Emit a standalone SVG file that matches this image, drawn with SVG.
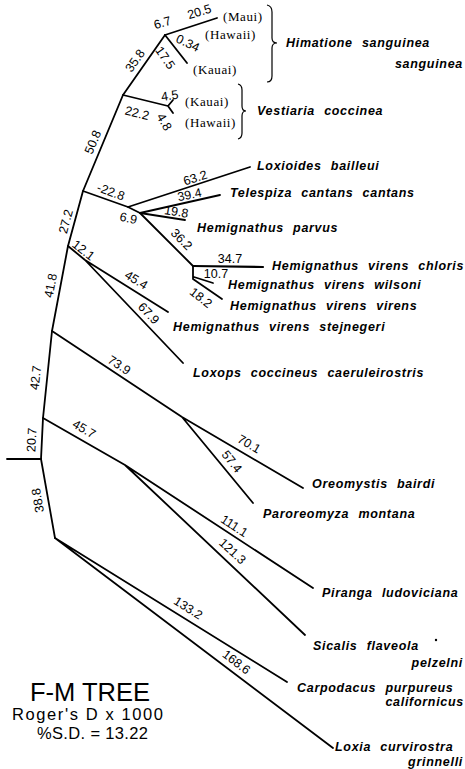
<svg xmlns="http://www.w3.org/2000/svg" width="465" height="769" viewBox="0 0 465 769">
<style>
.br{stroke:#000;stroke-width:1.8;fill:none;stroke-linecap:round;stroke-linejoin:round}
.brace{stroke:#000;stroke-width:1.2;fill:none}
.num{font-family:"Liberation Sans",Arial,sans-serif;font-size:12.5px;fill:#000;text-anchor:middle}
.sp{font-family:"Liberation Sans",Arial,sans-serif;font-size:12.5px;font-weight:bold;font-style:italic;letter-spacing:0.7px;word-spacing:5px;fill:#000}
.isl{font-family:"Liberation Serif","Times New Roman",serif;font-size:13px;letter-spacing:0.6px;fill:#000}
.ttl{font-family:"Liberation Sans",Arial,sans-serif;fill:#000}
</style>
<rect width="465" height="769" fill="#fff"/>
<g id="connectors">
<path class="br" d="M7,459 H41"/>
<path class="br" d="M41,459 L43,418 L52,331 L68,246 L83,191 L123,95 L165,35"/>
<path class="br" d="M41,459 L55,538"/>
<path class="br" d="M165,35 L217,18"/>
<path class="br" d="M165,35 L187,63"/>
<path class="br" d="M123,95 L168,106 L173,100 M168,106 L173,113"/>
<path class="br" d="M83,191 L128,207 L250,167"/>
<path class="br" d="M128,207 L140,213"/>
<path class="br" d="M140,213 L220,195"/>
<path class="br" d="M140,213 L185,220"/>
<path class="br" d="M140,213 L193,266"/>
<path class="br" d="M193,266 L263,267" style="stroke-width:2.2"/>
<path class="br" d="M193,266 L193,279 L222,299 M194,277 L213,283"/>
<path class="br" d="M68,246 L85,260 L168,312 M85,260 L183,363"/>
<path class="br" d="M52,331 L182,417 L303,488 M182,417 L253,503"/>
<path class="br" d="M43,418 L125,465 L313,588 M125,465 L305,635"/>
<path class="br" d="M55,538 L287,682 M55,538 L333,748"/>
</g>
<g id="branch-labels">
<text class="num" transform="translate(34,440) rotate(-87)" dy=".15em">20.7</text>
<text class="num" transform="translate(38,378) rotate(-84)" dy=".15em">42.7</text>
<text class="num" transform="translate(53,286) rotate(-79)" dy=".15em">41.8</text>
<text class="num" transform="translate(68,222) rotate(-75)" dy=".15em">27.2</text>
<text class="num" transform="translate(95,143) rotate(-67)" dy=".15em">50.8</text>
<text class="num" transform="translate(137,62) rotate(-55)" dy=".15em">35.8</text>
<text class="num" transform="translate(163,25) rotate(-16)" dy=".15em">6.7</text>
<text class="num" transform="translate(200,14) rotate(-17)" dy=".15em">20.5</text>
<text class="num" transform="translate(188,43) rotate(25)" dy=".35em">0.34</text>
<text class="num" transform="translate(168,56) rotate(55)" dy=".6em">17.5</text>
<text class="num" transform="translate(138,110) rotate(14)" dy=".6em">22.2</text>
<text class="num" transform="translate(170,98) rotate(-8)" dy=".15em">4.5</text>
<text class="num" transform="translate(166,121) rotate(60)" dy=".5em">4.8</text>
<text class="num" transform="translate(110,194) rotate(20)" dy=".15em">-22.8</text>
<text class="num" transform="translate(129,215) rotate(12)" dy=".6em">6.9</text>
<text class="num" transform="translate(196,180) rotate(-18)" dy=".15em">63.2</text>
<text class="num" transform="translate(190,197) rotate(-12)" dy=".15em">39.4</text>
<text class="num" transform="translate(176,214) rotate(9)" dy=".15em">19.8</text>
<text class="num" transform="translate(180,241) rotate(45)" dy=".15em">36.2</text>
<text class="num" transform="translate(230,261)" dy=".15em">34.7</text>
<text class="num" transform="translate(216,274)" dy=".35em">10.7</text>
<text class="num" transform="translate(203,295) rotate(38)" dy=".6em">18.2</text>
<text class="num" transform="translate(82,252) rotate(38)" dy=".15em">12.1</text>
<text class="num" transform="translate(135,282) rotate(32)" dy=".15em">45.4</text>
<text class="num" transform="translate(147,315) rotate(46)" dy=".15em">67.9</text>
<text class="num" transform="translate(118,367) rotate(33)" dy=".15em">73.9</text>
<text class="num" transform="translate(248,446) rotate(30)" dy=".15em">70.1</text>
<text class="num" transform="translate(230,463) rotate(51)" dy=".15em">57.4</text>
<text class="num" transform="translate(83,431) rotate(30)" dy=".15em">45.7</text>
<text class="num" transform="translate(233,528) rotate(33)" dy=".15em">111.1</text>
<text class="num" transform="translate(231,553) rotate(43)" dy=".15em">121.3</text>
<text class="num" transform="translate(187,610) rotate(32)" dy=".15em">133.2</text>
<text class="num" transform="translate(235,664) rotate(37)" dy=".15em">168.6</text>
<text class="num" transform="translate(40,500) rotate(-100)" dy=".15em">38.8</text>
</g>
<g id="himatione">
<text class="isl" x="223" y="21">(Maui)</text>
<text class="isl" x="205" y="39">(Hawaii)</text>
<text class="isl" x="193" y="74">(Kauai)</text>
<path class="brace" d="M267,5 Q272,6 272,12 V38 Q272,43 277,43 Q272,43 272,48 V76 Q272,82 267,82"/>
<text class="sp" x="286" y="47">Himatione sanguinea</text>
<text class="sp" x="463" y="68" text-anchor="end">sanguinea</text>
</g>
<g id="vestiaria">
<text class="isl" x="185" y="106">(Kauai)</text>
<text class="isl" x="185" y="127">(Hawaii)</text>
<path class="brace" d="M238,84 Q242,85 242,90 V106 Q242,111 246,111 Q242,111 242,116 V133 Q242,138 238,139"/>
<text class="sp" x="257" y="115">Vestiaria coccinea</text>
</g>
<g id="loxioides"><text class="sp" x="257" y="170">Loxioides bailleui</text></g>
<g id="telespiza"><text class="sp" x="230" y="197">Telespiza cantans cantans</text></g>
<g id="parvus"><text class="sp" x="197" y="232">Hemignathus parvus</text></g>
<g id="chloris"><text class="sp" x="272" y="270">Hemignathus virens chloris</text></g>
<g id="wilsoni"><text class="sp" x="228" y="289">Hemignathus virens wilsoni</text></g>
<g id="virens"><text class="sp" x="230" y="310">Hemignathus virens virens</text></g>
<g id="stejnegeri"><text class="sp" x="173" y="331">Hemignathus virens stejnegeri</text></g>
<g id="loxops"><text class="sp" x="193" y="377">Loxops coccineus caeruleirostris</text></g>
<g id="oreomystis"><text class="sp" x="312" y="488">Oreomystis bairdi</text></g>
<g id="paroreomyza"><text class="sp" x="263" y="518">Paroreomyza montana</text></g>
<g id="piranga"><text class="sp" x="322" y="597">Piranga ludoviciana</text></g>
<g id="sicalis">
<text class="sp" x="313" y="650">Sicalis flaveola</text>
<circle cx="436" cy="640" r="1.2" fill="#000"/>
<text class="sp" x="463" y="667" text-anchor="end">pelzelni</text>
</g>
<g id="carpodacus">
<text class="sp" x="297" y="692">Carpodacus purpureus</text>
<text class="sp" x="464" y="706" text-anchor="end">californicus</text>
</g>
<g id="loxia">
<text class="sp" x="335" y="751">Loxia curvirostra</text>
<text class="sp" x="463" y="766" text-anchor="end">grinnelli</text>
</g>
<g id="title">
<text class="ttl" x="30" y="701" font-size="25" textLength="120" lengthAdjust="spacingAndGlyphs">F-M TREE</text>
<text class="ttl" x="12" y="720" font-size="16.5" textLength="151" lengthAdjust="spacing">Roger's D x 1000</text>
<text class="ttl" x="37" y="739" font-size="16.5" textLength="111" lengthAdjust="spacing">%S.D. = 13.22</text>
</g>
</svg>
